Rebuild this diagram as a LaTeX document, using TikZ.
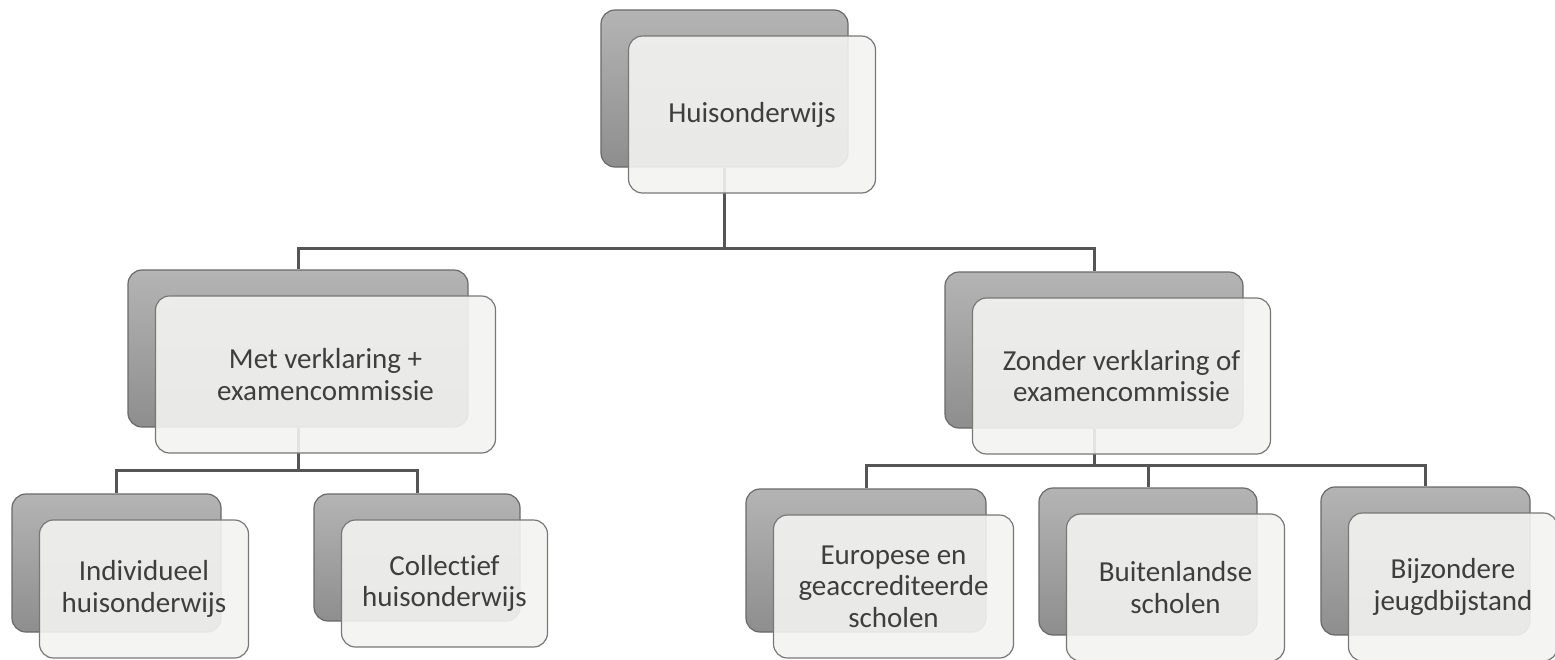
\documentclass[tikz,border=0pt]{standalone}
\usepackage{fontspec}
\setmainfont{Carlito}[Ligatures=NoCommon]
\usetikzlibrary{calc}
\pgfdeclarelayer{bg}
\pgfsetlayers{bg,main}
\definecolor{darktop}{RGB}{180,180,180}
\definecolor{darkbot}{RGB}{142,142,142}
\definecolor{darkline}{RGB}{105,105,105}
\definecolor{frontfill}{RGB}{243,243,241}
\definecolor{frontline}{RGB}{120,120,120}
\definecolor{connline}{RGB}{85,85,85}
\definecolor{txt}{RGB}{62,62,62}
\newcommand\card[6]{%
  \node[back, minimum width=#4pt, minimum height=#5pt] (#1-d) at (#2,#3) {};
  \node[front, minimum width=#4pt, minimum height=#5pt] (#1) at ($(#1-d)+(27.5,26)$) {#6};
}
\begin{document}
\begin{tikzpicture}[x=1pt,y=-1pt,
  back/.style={draw=darkline, line width=1.2pt, rounded corners=14pt,
    top color=darktop, bottom color=darkbot, inner sep=0pt},
  front/.style={draw=frontline, line width=1.2pt, rounded corners=14pt,
    fill=frontfill, fill opacity=0.9, text opacity=1, text=txt,
    align=center, inner sep=0pt, font=\fontsize{29}{31.5}\selectfont},
  conn/.style={draw=connline, line width=3pt}]
\useasboundingbox (0,0) rectangle (1555,659);

\card{top}{724.5}{88.5}{247}{157}{Huisonderwijs}
\card{met}{298}{348.5}{340}{157}{Met verklaring +\\examencommissie}
\card{zon}{1094}{350}{298}{156}{Zonder verklaring of\\examencommissie}
\card{ind}{116.5}{563}{209}{138}{Individueel\\huisonderwijs}
\card{col}{417}{557.5}{206}{127}{Collectief\\huisonderwijs}
\card{eur}{866}{560.5}{240}{143}{Europese en\\geaccrediteerde\\scholen}
\card{bui}{1148}{561.5}{218}{147}{Buitenlandse\\scholen}
\card{bij}{1425.5}{561}{209}{148}{Bijzondere\\jeugdbijstand}

\begin{pgfonlayer}{bg}
  \coordinate (bus1) at (0,248);
  \coordinate (bus2) at (0,470);
  \coordinate (bus3) at (0,465);
  \draw[conn] (top-d.south) -- (top-d.south |- bus1) -| (met-d.north);
  \draw[conn] (top-d.south |- bus1) -| (zon-d.north);
  \draw[conn] (met-d.south) -- (met-d.south |- bus2) -| (ind-d.north);
  \draw[conn] (met-d.south |- bus2) -| (col-d.north);
  \draw[conn] (zon-d.south) -- (zon-d.south |- bus3) -| (eur-d.north);
  \draw[conn] (zon-d.south |- bus3) -| (bui-d.north);
  \draw[conn] (zon-d.south |- bus3) -| (bij-d.north);
\end{pgfonlayer}
\end{tikzpicture}
\end{document}
